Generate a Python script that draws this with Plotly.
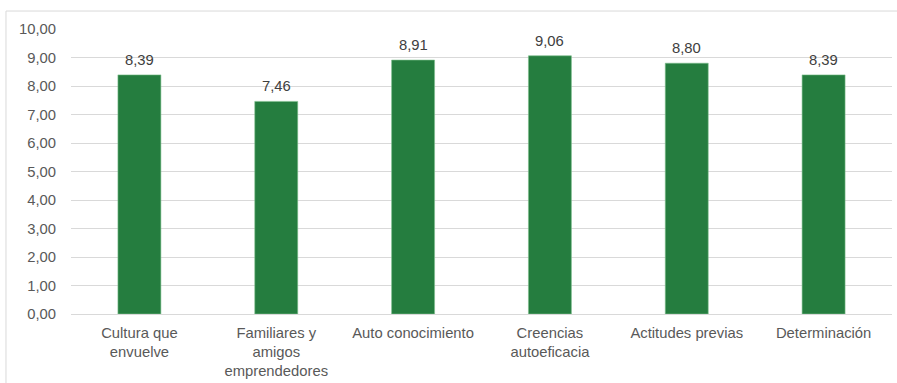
import plotly.graph_objects as go

categories = ["Cultura que<br>envuelve", "Familiares y<br>amigos<br>emprendedores", "Auto conocimiento",
              "Creencias<br>autoeficacia", "Actitudes previas", "Determinación"]
values = [8.39, 7.46, 8.91, 9.06, 8.80, 8.39]
y_ticks = [0, 1, 2, 3, 4, 5, 6, 7, 8, 9, 10]

FONT = "Liberation Sans, Arial"

fig = go.Figure(go.Bar(
    x=categories, y=values,
    marker=dict(color="#257D3F", line=dict(color="#7DBF8D", width=0.6)),
    hoverinfo="x+y",
))

for c, v in zip(categories, values):
    fig.add_annotation(
        x=c, y=v, xref="x", yref="y",
        text=f"{v:.2f}".replace(".", ","),
        showarrow=False, yanchor="bottom", yshift=5,
        font=dict(family=FONT, size=14.8, color="#404040"),
    )

fig.update_layout(
    width=897, height=383,
    margin=dict(l=71, r=5, t=29, b=69),
    paper_bgcolor="white", plot_bgcolor="white",
    separators=",.",
    bargap=0.686,
    showlegend=False,
    font=dict(family=FONT, size=14.8, color="#595959"),
    xaxis=dict(showgrid=False, showline=False, ticks="", tickfont=dict(size=14.8, color="#595959"),
               tickangle=0, automargin=False, ticklabelstandoff=8),
    yaxis=dict(range=[0, 10], tickvals=y_ticks, tickformat=".2f", showgrid=True,
               gridcolor="#D9D9D9", gridwidth=1, zeroline=True, zerolinecolor="#D9D9D9",
               zerolinewidth=1, showline=False, ticks="", ticklabelstandoff=14,
               tickfont=dict(size=14.8, color="#595959"), automargin=False),
    shapes=[
        dict(type="line", xref="paper", yref="paper", x0=-0.0792, x1=1.01, y0=1.063, y1=1.063,
             line=dict(color="#D9D9D9", width=1)),
        dict(type="line", xref="paper", yref="paper", x0=-0.0792, x1=-0.0792, y0=-0.3, y1=1.063,
             line=dict(color="#D9D9D9", width=1)),
    ],
)

fig.write_html("out.html", config={"displayModeBar": False},
               post_script="document.body.style.margin='0';document.body.style.overflow='hidden';")
